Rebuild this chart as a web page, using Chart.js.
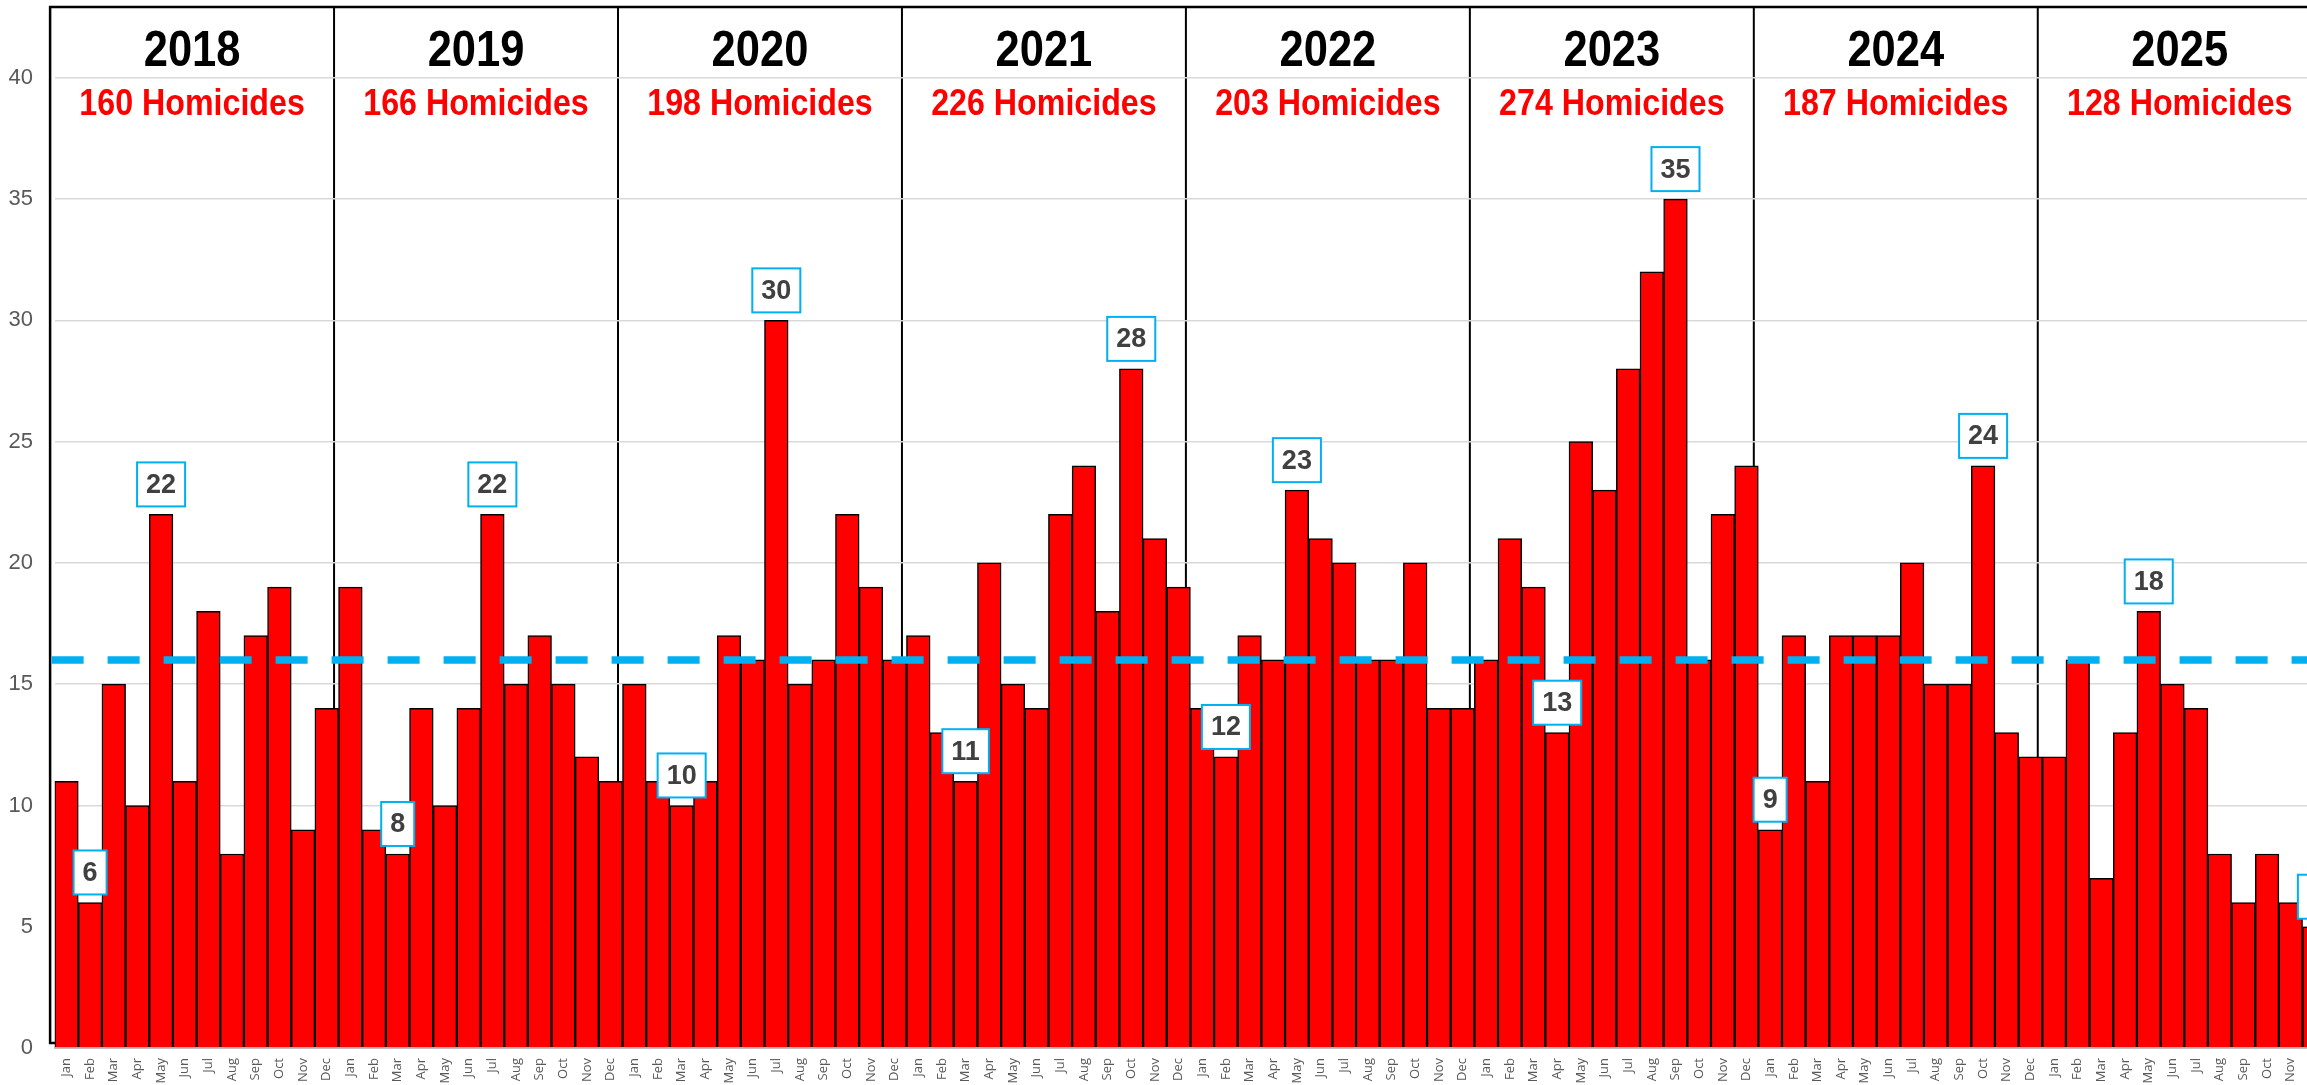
<!DOCTYPE html>
<html>
<head>
<meta charset="utf-8">
<script src="https://cdn.jsdelivr.net/npm/chart.js@4.4.1/dist/chart.umd.min.js"></script>
<style>
  html, body { margin: 0; padding: 0; background: #fff; overflow: hidden; }
  canvas { display: block; }
</style>
</head>
<body>
<canvas id="chart" width="2330" height="1085"></canvas>
<script>
const years = ["2018", "2019", "2020", "2021", "2022", "2023", "2024", "2025"];
const yearTotals = [160, 166, 198, 226, 203, 274, 187, 128];
const monthNames = ["Jan", "Feb", "Mar", "Apr", "May", "Jun", "Jul", "Aug", "Sep", "Oct", "Nov", "Dec"];

const counts2018 = [11, 6, 15, 10, 22, 11, 18, 8, 17, 19, 9, 14];
const counts2019 = [19, 9, 8, 14, 10, 14, 22, 15, 17, 15, 12, 11];
const counts2020 = [15, 11, 10, 11, 17, 16, 30, 15, 16, 22, 19, 16];
const counts2021 = [17, 13, 11, 20, 15, 14, 22, 24, 18, 28, 21, 19];
const counts2022 = [14, 12, 17, 16, 23, 21, 20, 16, 16, 20, 14, 14];
const counts2023 = [16, 21, 19, 13, 25, 23, 28, 32, 35, 16, 22, 24];
const counts2024 = [9, 17, 11, 17, 17, 17, 20, 15, 15, 24, 13, 12];
const counts2025 = [12, 16, 7, 13, 18, 15, 14, 8, 6, 8, 6, 5];

const averageLevel = 16;

const yearCounts = [counts2018, counts2019, counts2020, counts2021, counts2022, counts2023, counts2024, counts2025];
const labels = [];
years.forEach(() => monthNames.forEach(m => labels.push(m)));
const values = [].concat(...yearCounts);

// months that get a value box: lowest and highest of each year
const labelled = [];
yearCounts.forEach((arr, y) => {
    labelled.push(y * 12 + arr.indexOf(Math.min(...arr)));
    labelled.push(y * 12 + arr.indexOf(Math.max(...arr)));
});

function yearEdge(chart, y) {
    const bars = chart.getDatasetMeta(0).data;
    if (y < years.length) {
        const b = bars[y * 12].getProps(['x', 'width'], true);
        return b.x - b.width / 2 - 4.5;
    }
    const b = bars[bars.length - 1].getProps(['x', 'width'], true);
    return b.x + b.width / 2 - 4.5;
}

function squeezedText(ctx, text, cx, baseline, font, color, sx) {
    ctx.save();
    ctx.font = font;
    ctx.fillStyle = color;
    ctx.textAlign = 'center';
    ctx.textBaseline = 'alphabetic';
    ctx.translate(cx, baseline);
    ctx.scale(sx, 1);
    ctx.fillText(text, 0, 0);
    ctx.restore();
}

// frame, year dividers and year headers, under the grid and bars
const framePlugin = {
    id: 'frame',
    beforeDraw(chart) {
        const ctx = chart.ctx;
        const top = 7, bottom = 1043;
        ctx.save();
        ctx.strokeStyle = '#000';
        ctx.lineWidth = 2.5;
        const left = yearEdge(chart, 0);
        ctx.strokeRect(left, top, chart.width, bottom - top);
        ctx.lineWidth = 2;
        for (let y = 1; y < years.length; y++) {
            const x = yearEdge(chart, y);
            ctx.beginPath();
            ctx.moveTo(x, top);
            ctx.lineTo(x, bottom);
            ctx.stroke();
        }
        ctx.restore();
        for (let y = 0; y < years.length; y++) {
            const cx = (yearEdge(chart, y) + yearEdge(chart, y + 1)) / 2;
            squeezedText(ctx, years[y], cx, 66, 'bold 50px "Liberation Sans"', '#000', 0.87);
            squeezedText(ctx, yearTotals[y] + ' Homicides', cx, 115, 'bold 37px "Liberation Sans"', '#ff0000', 0.87);
        }
    }
};

// dashed average line and value boxes, over the bars
const overlayPlugin = {
    id: 'overlay',
    afterDatasetsDraw(chart) {
        const ctx = chart.ctx;
        const area = chart.chartArea;
        const yScale = chart.scales.y;
        const ay = yScale.getPixelForValue(averageLevel);
        ctx.save();
        ctx.strokeStyle = '#00b0f0';
        ctx.lineWidth = 7.5;
        ctx.setLineDash([32, 24]);
        ctx.beginPath();
        ctx.moveTo(area.left - 3, ay);
        ctx.lineTo(chart.width, ay);
        ctx.stroke();
        ctx.restore();

        const bars = chart.getDatasetMeta(0).data;
        ctx.save();
        ctx.font = 'bold 27px "Liberation Sans"';
        labelled.forEach(i => {
            const b = bars[i].getProps(['x', 'y'], true);
            const txt = String(values[i]);
            const w = ctx.measureText(txt).width + 18;
            const h = 44;
            const bx = b.x - w / 2, by = b.y - 8 - h;
            ctx.fillStyle = '#fff';
            ctx.fillRect(bx, by, w, h);
            ctx.strokeStyle = '#00b0f0';
            ctx.lineWidth = 2;
            ctx.strokeRect(bx, by, w, h);
            ctx.fillStyle = '#404040';
            ctx.textAlign = 'center';
            ctx.textBaseline = 'middle';
            ctx.fillText(txt, b.x, by + h / 2 + 1);
        });
        ctx.restore();
    }
};

new Chart(document.getElementById('chart').getContext('2d'), {
    type: 'bar',
    data: {
        labels: labels,
        datasets: [{
            data: values,
            backgroundColor: '#ff0000',
            borderColor: '#000000',
            borderWidth: 1.5,
            barPercentage: 1,
            categoryPercentage: 1
        }]
    },
    options: {
        responsive: false,
        devicePixelRatio: 1,
        animation: false,
        layout: { padding: { top: 7.5, right: 3, left: 0, bottom: 0 } },
        plugins: { legend: { display: false }, tooltip: { enabled: false } },
        scales: {
            x: {
                grid: { color: 'rgba(0,0,0,0)', drawTicks: true, tickLength: 10, tickColor: 'rgba(0,0,0,0)' },
                border: { color: '#bfbfbf', width: 2 },
                ticks: {
                    autoSkip: false, minRotation: 90, maxRotation: 90, padding: 0,
                    color: '#595959', font: { family: '"Open Sans"', size: 13 }
                },
                afterFit: s => { s.height = 37; }
            },
            y: {
                min: 0, max: 42.9,
                grid: { color: '#d9d9d9', lineWidth: 1.5, drawTicks: true, tickLength: 21.6, tickColor: 'rgba(0,0,0,0)' },
                border: { display: false },
                ticks: {
                    stepSize: 5, padding: 0,
                    color: '#595959', font: { family: '"Liberation Sans"', size: 22, lineHeight: 0.6 }
                },
                afterFit: s => { s.width = 54.6; },
                afterBuildTicks: s => { s.ticks = s.ticks.filter(t => t.value <= 40); }
            }
        }
    },
    plugins: [framePlugin, overlayPlugin]
});
</script>
</body>
</html>
